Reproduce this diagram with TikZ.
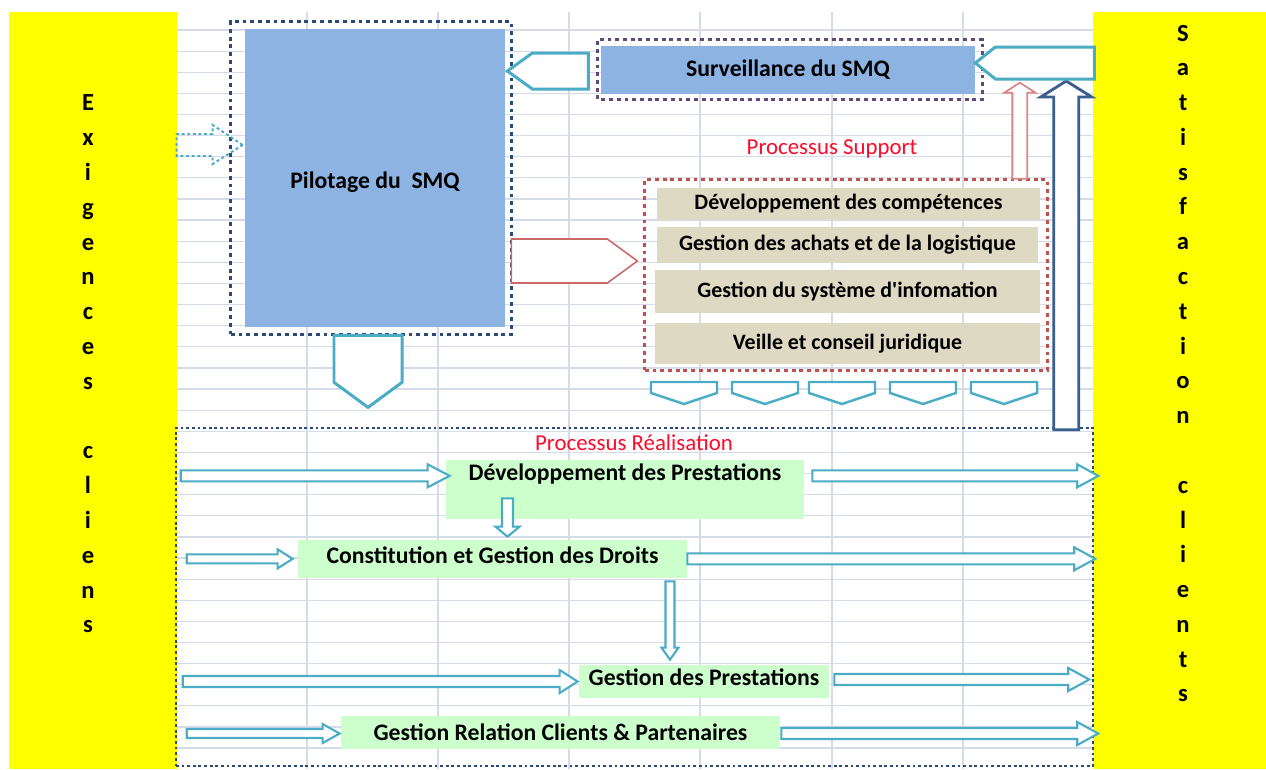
\documentclass[tikz,border=0pt]{standalone}
\usepackage{fontspec}
\setmainfont{Carlito}
\usetikzlibrary{calc,positioning}

\definecolor{gridc}{HTML}{D5DBE8}
\definecolor{bandc}{HTML}{FFFF00}
\definecolor{pilotc}{HTML}{8DB3E2}
\definecolor{navyc}{HTML}{2C4A78}
\definecolor{purpc}{HTML}{604A7B}
\definecolor{redc}{HTML}{C0504D}
\definecolor{tanc}{HTML}{DDD9C3}
\definecolor{greenc}{HTML}{CCFFCC}
\definecolor{smqteal}{HTML}{4BACC6}
\definecolor{labred}{HTML}{FF0A2A}
\definecolor{upred}{HTML}{D98886}
\definecolor{upblue}{HTML}{3A5F8F}

% hollow block arrow: style, half shaft, half head, head length, from, to
\newcommand{\fatarrow}[6]{%
  \coordinate (fatb) at ($(#6)!#4!(#5)$);
  \draw[#1] ($(#5)!#2!90:(#6)$) -- ($(fatb)!#2!90:(#6)$) -- ($(fatb)!#3!90:(#6)$) -- (#6)
    -- ($(fatb)!#3!-90:(#6)$) -- ($(fatb)!#2!-90:(#6)$) -- ($(#5)!#2!-90:(#6)$) -- cycle;}

\begin{document}
\begin{tikzpicture}[x=0.02cm,y=-0.02cm]
\tikzset{gridline/.style={draw=gridc,line width=0.7pt}}
\tikzset{band/.style={fill=bandc,inner sep=0}}
\tikzset{letters/.style={align=center,inner sep=0,font=\fontsize{14}{19.8}\selectfont\bfseries}}
\tikzset{pilotbox/.style={fill=pilotc,inner sep=0,font=\fontsize{13.5}{16}\selectfont\bfseries}}
\tikzset{supbox/.style={fill=tanc,inner sep=0,font=\fontsize{12.5}{15}\selectfont\bfseries}}
\tikzset{realbox/.style={fill=greenc,inner sep=0,font=\fontsize{13.5}{16}\selectfont\bfseries}}
\tikzset{dotframe/.style={line width=1.7pt,dash pattern=on 2.2pt off 2.2pt}}
\tikzset{penta/.style={draw=smqteal,fill=white,line width=1.7pt,line join=miter}}
\tikzset{chevron/.style={draw=smqteal,fill=white,line width=1.4pt,line join=miter}}
\tikzset{hollow/.style={draw=smqteal,fill=white,line width=1.2pt,line join=miter}}
\tikzset{proclabel/.style={text=labred,inner sep=0,font=\fontsize{13}{15}\selectfont}}
\def\px{0.02cm}
%
\fill[white] (0,0) rectangle (1266,769);
\useasboundingbox (0,0) rectangle (1266,769);
\foreach \gy in {0,...,34} \draw[gridline] (177,{30+21.12*\gy}) -- (1093,{30+21.12*\gy});
\foreach \gx in {307,438,569,700,832,963} \draw[gridline] (\gx,12) -- (\gx,769);
%
\node[band,minimum width=168*\px,minimum height=757*\px] (exig) at (93,390.5) {};
\node[band,minimum width=173*\px,minimum height=757*\px] (satis) at (1179.5,390.5) {};
\node[letters] (exigtxt) at (88,364) {E\\x\\i\\g\\e\\n\\c\\e\\s\\\mbox{}\\c\\l\\i\\e\\n\\s};
\node[letters] (satistxt) at (1183,363.5) {S\\a\\t\\i\\s\\f\\a\\c\\t\\i\\o\\n\\\mbox{}\\c\\l\\i\\e\\n\\t\\s};
%
\node[pilotbox,minimum width=260*\px,text height=159*\px,text depth=139*\px] (pilot) at (375,178) {Pilotage du~~SMQ};
\draw[dotframe,draw=navyc] ($(pilot.south west)+(-14,7)$) rectangle ($(pilot.north east)+(6,-7)$);
\node[pilotbox,minimum width=374*\px,minimum height=48*\px] (surv) at (788,70) {Surveillance du SMQ};
\draw[dotframe,draw=purpc] ($(surv.south west)+(-3,5)$) rectangle ($(surv.north east)+(7,-6)$);
%
\node[proclabel] (suplabel) at (832,149) {Processus Support};
\node[supbox,minimum width=383*\px,minimum height=32*\px] (comp) at (848.5,204) {Développement des compétences};
\node[supbox,minimum width=381*\px,minimum height=36*\px] (achat) at (847.5,245) {Gestion des achats et de la logistique};
\node[supbox,minimum width=385*\px,minimum height=43*\px] (sinfo) at (847.5,291.5) {Gestion du système d\textquotesingle infomation};
\node[supbox,minimum width=385*\px,minimum height=41*\px] (veille) at (847.5,343.5) {Veille et conseil juridique};
\draw[dotframe,draw=redc] ($(veille.south west)+(-10,6)$) rectangle ($(comp.north east)+(7,-8)$);
%
\node[proclabel] (reallabel) at (634,443) {Processus Réalisation};
\node[draw=navyc,line width=1.4pt,dash pattern=on 1.6pt off 1.6pt,minimum width=917*\px,minimum height=338*\px] (real) at (634.5,597) {};
\node[realbox,minimum width=358*\px,text height=20*\px,text depth=39*\px] (devp) at (625,489.5) {Développement des Prestations};
\node[realbox,minimum width=389*\px,text height=23*\px,text depth=15*\px] (droits) at (492.5,559) {Constitution et Gestion des Droits};
\node[realbox,minimum width=250*\px,text height=20*\px,text depth=13*\px] (gprest) at (704,681.5) {Gestion des Prestations};
\node[realbox,minimum width=439*\px,minimum height=33*\px] (grel) at (560.5,732.5) {Gestion Relation Clients \& Partenaires};
%
\draw[penta] ($(pilot.east|-surv.center)+(2,1)$) -- ++(25,-18) -- ++(56,0) -- ++(0,36) -- ++(-56,0) -- cycle;
\draw[penta] ($(pilot.south)+(-41,8)$) -- ++(68,0) -- ++(0,47) -- ++(-34,25) -- ++(-34,-25) -- cycle;
\draw[draw=redc!85,fill=white,line width=0.9pt] ($(pilot.east)+(6,61)$) -- ++(96,0) -- ++(30,22) -- ++(-30,22) -- ++(-96,0) -- cycle;
\coordinate (dtip) at ($(pilot.west)+(-2,-33)$);
\draw[draw=smqteal,line width=1.1pt,dash pattern=on 1.7pt off 1.5pt] (dtip) -- ++(-30,-20) -- ++(0,9) -- ++(-36,0) -- ++(0,22) -- ++(36,0) -- ++(0,8) -- cycle;
\foreach \cx in {684,765,842,923,1004}
  \draw[chevron] ({\cx-33},382) -- ({\cx+33},382) -- ({\cx+33},393) -- (\cx,404) -- ({\cx-33},393) -- cycle;
%
\coordinate (up1a) at ($(comp.north east)+(-20.5,-9)$);
\coordinate (up1b) at ($(up1a)+(0,-96)$);
\fatarrow{draw=upred,fill=white,line width=1pt}{0.15cm}{0.31cm}{0.2cm}{up1a}{up1b}
\coordinate (up2a) at ($(real.north east)+(-28,3)$);
\coordinate (up2b) at ($(up2a|-surv.east)+(0,11)$);
\fatarrow{draw=upblue,fill=white,line width=1.6pt,line join=miter}{0.25cm}{0.51cm}{0.32cm}{up2a}{up2b}
\draw[penta] ($(surv.east)+(0,-7)$) -- ++(20,-16) -- ++(99,0) -- ++(0,32) -- ++(-99,0) -- cycle;
%
\coordinate (r1a) at ($(real.west|-devp.mid)+(6,0)$);
\coordinate (r1b) at ($(devp.mid west)+(4,0)$);
\fatarrow{hollow}{0.11cm}{0.23cm}{0.44cm}{r1a}{r1b}
\coordinate (r1c) at ($(devp.mid east)+(8,0)$);
\coordinate (r1d) at ($(real.east|-devp.mid)+(4,0)$);
\fatarrow{hollow}{0.11cm}{0.23cm}{0.42cm}{r1c}{r1d}
\coordinate (r2a) at ($(real.west|-droits.mid)+(12,0)$);
\coordinate (r2b) at ($(droits.mid west)+(-5,0)$);
\fatarrow{hollow}{0.09cm}{0.19cm}{0.3cm}{r2a}{r2b}
\coordinate (r2c) at (droits.mid east);
\coordinate (r2d) at ($(real.east|-droits.mid)+(1,0)$);
\fatarrow{hollow}{0.11cm}{0.23cm}{0.42cm}{r2c}{r2d}
\coordinate (r3a) at ($(real.west|-gprest.west)+(8,0)$);
\coordinate (r3b) at ($(gprest.west)+(-1,0)$);
\fatarrow{hollow}{0.11cm}{0.23cm}{0.36cm}{r3a}{r3b}
\coordinate (r3c) at ($(gprest.east)+(5,-2)$);
\coordinate (r3d) at ($(real.east|-r3c)+(-5,0)$);
\fatarrow{hollow}{0.11cm}{0.23cm}{0.42cm}{r3c}{r3d}
\coordinate (r4a) at ($(real.west|-grel.west)+(12,1)$);
\coordinate (r4b) at ($(grel.west)+(-1,1)$);
\fatarrow{hollow}{0.09cm}{0.19cm}{0.34cm}{r4a}{r4b}
\coordinate (r4c) at ($(grel.east)+(1,1)$);
\coordinate (r4d) at ($(real.east|-r4c)+(4,0)$);
\fatarrow{hollow}{0.11cm}{0.23cm}{0.42cm}{r4c}{r4d}
%
\coordinate (v1b) at ($(droits.north)+(15,-3)$);
\coordinate (v1a) at ($(v1b|-devp.south)+(0,-21)$);
\fatarrow{hollow}{0.11cm}{0.24cm}{0.2cm}{v1a}{v1b}
\coordinate (v2a) at ($(droits.south)+(177.5,3)$);
\coordinate (v2b) at ($(v2a|-gprest.north)+(0,-5)$);
\fatarrow{hollow}{0.09cm}{0.17cm}{0.24cm}{v2a}{v2b}
\end{tikzpicture}
\end{document}
